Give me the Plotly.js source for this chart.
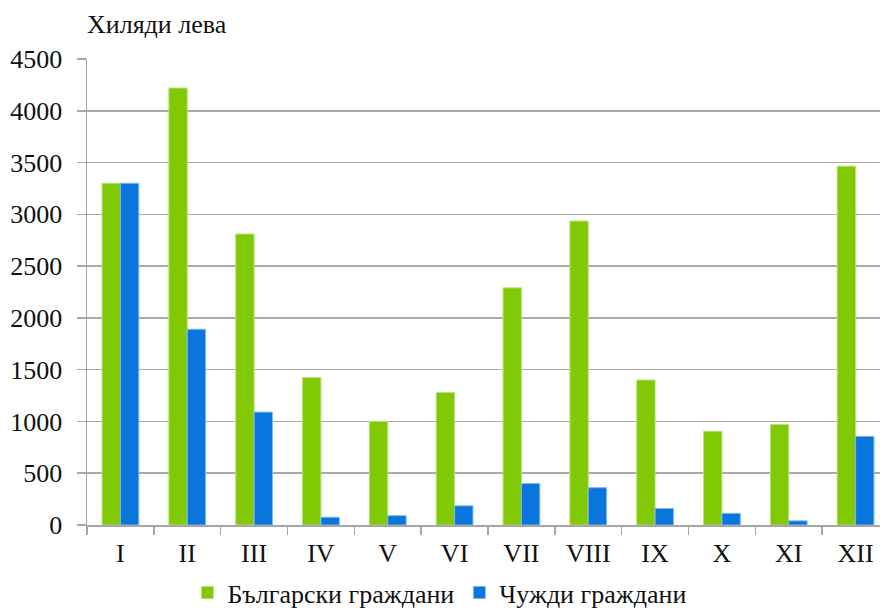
<!DOCTYPE html>
<html>
<head>
<meta charset="utf-8">
<script src="https://cdn.plot.ly/plotly-3.0.1.min.js"></script>
<style>
html,body{margin:0;padding:0;overflow:hidden;background:#fff;}
#chart{width:890px;height:611px;}
</style>
</head>
<body>
<div id="chart"></div>
<script>
const months = ["I","II","III","IV","V","VI","VII","VIII","IX","X","XI","XII"];
const bulgarian = [3300, 4220, 2810, 1425, 1000, 1280, 2290, 2935, 1400, 905, 970, 3465];
const foreign = [3300, 1890, 1090, 75, 90, 185, 400, 360, 160, 113, 40, 856];
const seriesNames = ["Български граждани", "Чужди граждани"];
const yTicks = [0, 500, 1000, 1500, 2000, 2500, 3000, 3500, 4000, 4500];

const font = {family: "'Liberation Serif', 'Times New Roman', serif", size: 26, color: "#111111"};
const legendFont = {family: "'Liberation Serif', 'Times New Roman', serif", size: 26, color: "#111111"};

const traces = [
  {type: "bar", name: seriesNames[0], x: months, y: bulgarian,
   marker: {color: "#80c904", line: {color: "#b8e37a", width: 1}}},
  {type: "bar", name: seriesNames[1], x: months, y: foreign,
   marker: {color: "#0a75dc", line: {color: "#7fb8ee", width: 1}}}
];

const layout = {
  width: 890, height: 611,
  margin: {l: 87, r: 1, t: 59, b: 86, autoexpand: false},
  paper_bgcolor: "#fff", plot_bgcolor: "#fff",
  font: font,
  barmode: "group",
  bargap: 0.45,
  bargroupgap: 0,
  showlegend: true,
  legend: {orientation: "h", x: 0.44, xanchor: "center", y: -0.145, yanchor: "middle",
           font: legendFont, itemwidth: 30, traceorder: "normal"},
  xaxis: {
    type: "category", automargin: false,
    showline: true, linecolor: "#a6a6a6", linewidth: 1.5,
    ticks: "outside", tickson: "boundaries", ticklen: 8, tickcolor: "#a6a6a6", tickwidth: 1.5,
    showgrid: false, tickfont: font, ticklabelstandoff: 4
  },
  yaxis: {
    range: [0, 4500], tickvals: yTicks, ticktext: yTicks.map(String), automargin: false,
    showline: true, linecolor: "#a6a6a6", linewidth: 1.5,
    ticks: "outside", ticklen: 9, tickcolor: "#a6a6a6", tickwidth: 1.5,
    showgrid: true, gridcolor: "#aaaaaa", gridwidth: 1.5,
    zeroline: false, tickfont: font, ticklabelstandoff: 9
  },
  annotations: [{
    text: "Хиляди лева", xref: "paper", yref: "paper", x: 0, y: 1.075,
    xanchor: "left", yanchor: "middle", showarrow: false, font: font, xshift: -2
  }]
};

Plotly.newPlot("chart", traces, layout, {displayModeBar: false, staticPlot: true});
</script>
</body>
</html>
